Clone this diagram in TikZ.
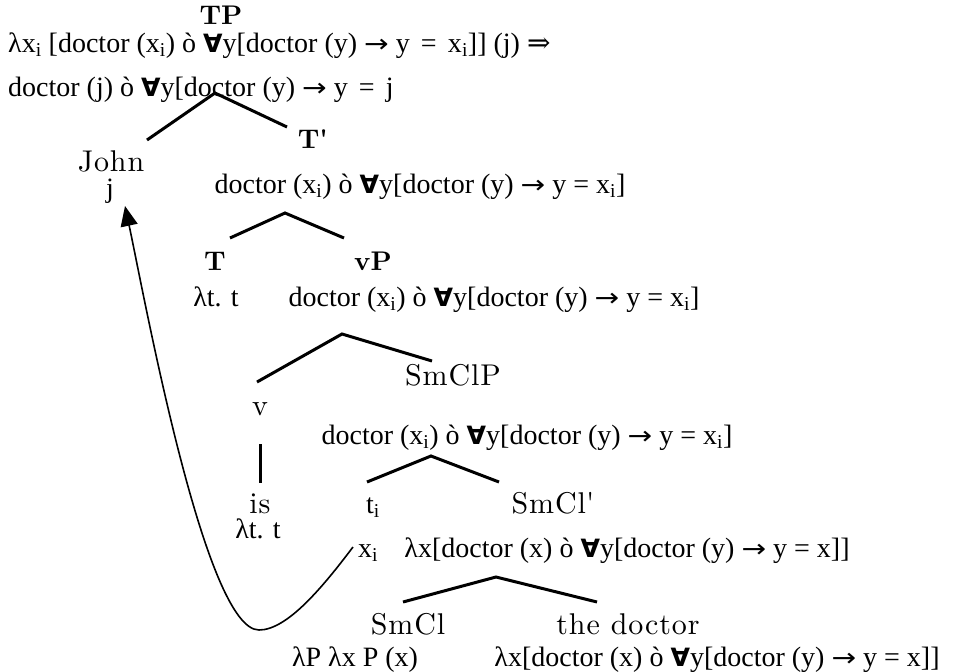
\documentclass[tikz,border=0pt]{standalone}
\usepackage{fontspec}
\newfontfamily\tnr{Liberation Serif}
\newfontfamily\dvs{DejaVu Sans}
\newfontfamily\dvserif{DejaVu Serif}
\newfontfamily\lmt{lmroman10-regular.otf}[BoldFont=lmroman10-bold.otf]
\newfontfamily\lmw{lmroman10-regular.otf}[LetterSpace=3]
\usetikzlibrary{arrows.meta}
\newcommand{\fa}{{\dvs\bfseries\scalebox{0.9}{∀}}}
\newcommand{\imp}{{\dvserif ⇒}}
\newcommand{\rarr}{{\dvs\scalebox{1.05}[0.9]{→}}}
\newcommand{\sbi}{\textsubscript{i}}
\newcommand{\pr}{\textquotesingle}
\begin{document}
\begin{tikzpicture}[x=1pt,y=-1pt,
  lab/.style={font=\lmw\fontsize{30}{32}\selectfont, inner sep=0pt, anchor=base},
  labb/.style={font=\lmt\fontsize{27}{30}\selectfont\bfseries, inner sep=0pt, anchor=base},
  sem/.style={font=\tnr\fontsize{28}{30}\selectfont, inner sep=0pt, anchor=base},
  br/.style={line width=3pt},
  mv/.style={line width=1.6pt, -{Triangle[length=20pt,width=17pt]}}]
\useasboundingbox (0,0) rectangle (959,672);
% TP
\node[labb] (tp) at (221,24) {TP};
\node[sem, anchor=base west] (l1) at (8,52) {λx\sbi{} [doctor (x\sbi) ò \fa y[doctor (y) \rarr{} y\hspace{0.4em}=\hspace{0.4em}x\sbi]] (j) \imp};
\node[sem, anchor=base west] (l2) at (8,96) {doctor (j) ò \fa y[doctor (y) \rarr{} y\hspace{0.4em}=\hspace{0.4em}j};
\coordinate (tpA) at (215,93);
\coordinate (tpL) at (147,140);
\coordinate (tpR) at (287,127);
\draw[br] (tpL) -- (tpA) -- (tpR);
% John
\node[lab] (john) at (111,171) {John};
\node[sem] (j) at (110,197) {j};
% T'
\node[labb] (tbar) at (313,148) {T\pr};
\node[sem] (tbarsem) at (420,193) {doctor (x\sbi) ò \fa y[doctor (y) \rarr{} y = x\sbi]};
\coordinate (tbA) at (285,213);
\coordinate (tbL) at (230,238);
\coordinate (tbR) at (344,238);
\draw[br] (tbL) -- (tbA) -- (tbR);
% T and vP
\node[labb] (t) at (215,270) {T};
\node[sem] (tsem) at (216,306) {λt. t};
\node[labb] (vp) at (373,270) {vP};
\node[sem] (vpsem) at (494,306) {doctor (x\sbi) ò \fa y[doctor (y) \rarr{} y = x\sbi]};
\coordinate (vpA) at (342,334);
\coordinate (vpL) at (257,382);
\coordinate (vpR) at (432,361);
\draw[br] (vpL) -- (vpA) -- (vpR);
% v and SmClP
\node[lab] (v) at (260,415) {v};
\node[lab] (smclp) at (453,385) {SmClP};
\node[sem] (smclpsem) at (527,444) {doctor (x\sbi) ò \fa y[doctor (y) \rarr{} y = x\sbi]};
\coordinate (vT) at (260,444);
\coordinate (vB) at (260,483);
\draw[br] (vT) -- (vB);
\node[lab] (is) at (260,513) {is};
\node[sem] (issem) at (258,538) {λt. t};
\coordinate (spA) at (431,456);
\coordinate (spL) at (367,482);
\coordinate (spR) at (499,482);
\draw[br] (spL) -- (spA) -- (spR);
% ti and SmCl'
\node[sem] (ti) at (373,513) {t\sbi};
\node[lab] (smclbar) at (553,513) {SmCl\pr};
\node[sem] (xi) at (368,557) {x\sbi};
\node[sem] (smclbarsem) at (627,557) {λx[doctor (x) ò \fa y[doctor (y) \rarr{} y = x]]};
\coordinate (sbA) at (496,577);
\coordinate (sbL) at (403,602);
\coordinate (sbR) at (597,602);
\draw[br] (sbL) -- (sbA) -- (sbR);
% SmCl and the doctor
\node[lab] (smcl) at (408,634) {SmCl};
\node[sem] (smclsem) at (355,666) {λP λx P (x)};
\node[lab] (doc) at (628,634) {the doctor};
\node[sem] (docsem) at (717,666) {λx[doctor (x) ò \fa y[doctor (y) \rarr{} y = x]]};
% movement arrow
\coordinate (mvS) at (353,547);
\coordinate (mvE) at (125,206);
\draw[mv] (mvS) .. controls (322,588) and (287,630) .. (259,630) .. controls (205,630) and (145,300) .. (mvE);
\end{tikzpicture}
\end{document}
